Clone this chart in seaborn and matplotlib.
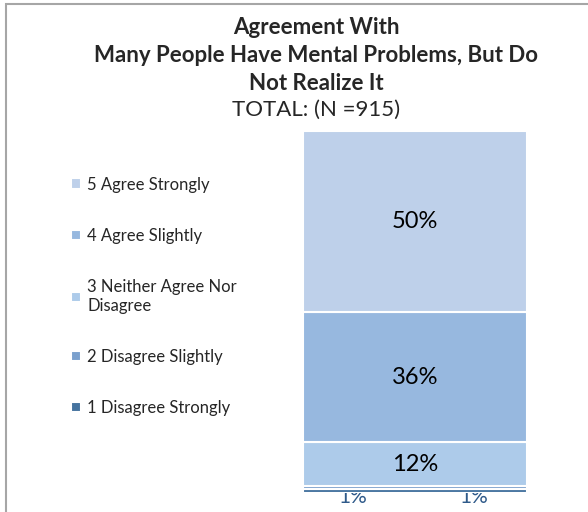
import matplotlib.pyplot as plt
import seaborn as sns
import numpy as np
from matplotlib.patches import Rectangle

# stacked from bottom to top
categories = ["1 Disagree Strongly", "2 Disagree Slightly",
              "3 Neither Agree Nor\nDisagree", "4 Agree Slightly", "5 Agree Strongly"]
values = [1, 1, 12, 36, 50]
colors = ["#45739F", "#7BA0CD", "#ADCBEA", "#97B8DF", "#BED0EA"]
group = ["TOTAL"]

sns.set_theme(style="white")
plt.rcParams["font.family"] = ["Lato", "DejaVu Sans"]

fig = plt.figure(figsize=(5.88, 5.12), dpi=100)
ax = fig.add_axes([303 / 588, 1 - 493 / 512, 224 / 588, 362 / 512])

bottom = 0
handles = []
for cat, val, col in zip(categories, values, colors):
    sns.barplot(x=group, y=[val], bottom=bottom, color=col, saturation=1,
                width=1.0, edgecolor="white", linewidth=1.5, ax=ax, zorder=3)
    handles.append(ax.patches[-1])
    bottom += val

ax.set_xlim(-0.5, 0.5)
ax.set_ylim(0, sum(values))
ax.axis("off")

# value labels
bottom = 0
for i, val in enumerate(values):
    mid = bottom + val / 2
    if val >= 5:
        ax.text(0, mid, f"{val}%", ha="center", va="center", fontsize=17,
                color="black", zorder=4)
    else:
        xoff = -0.28 if i == 1 else 0.26
        ax.text(xoff, -1.0, f"{val}%", ha="center", va="center", fontsize=15,
                color="#2F5A8A", zorder=2, clip_on=False)
    bottom += val

# legend (top entry first)
leg = fig.legend(handles[::-1], categories[::-1], loc="upper left",
                 bbox_to_anchor=(64 / 588, 1 - 170 / 512), frameon=False,
                 fontsize=12, handlelength=0.6, handleheight=0.6,
                 handletextpad=0.4, labelspacing=2.11, borderaxespad=0)

fig.text(316 / 588, 1 - 27 / 512, "Agreement With", ha="center", va="center",
         fontsize=16, fontweight="bold")
fig.text(316 / 588, 1 - 55 / 512, "Many People Have Mental Problems, But Do",
         ha="center", va="center", fontsize=16, fontweight="bold")
fig.text(316 / 588, 1 - 83 / 512, "Not Realize It", ha="center", va="center",
         fontsize=16, fontweight="bold")
fig.text(316 / 588, 1 - 110 / 512, "TOTAL: (N =915)", ha="center", va="center",
         fontsize=16)

# outer frame (right and bottom run off the image)
fig.add_artist(Rectangle((6 / 588, -0.1), 1.2, 1 - 4 / 512 + 0.1,
                         transform=fig.transFigure, fill=False,
                         edgecolor="#A6A6A6", linewidth=1.5))

fig.savefig("out.png", dpi=100)
